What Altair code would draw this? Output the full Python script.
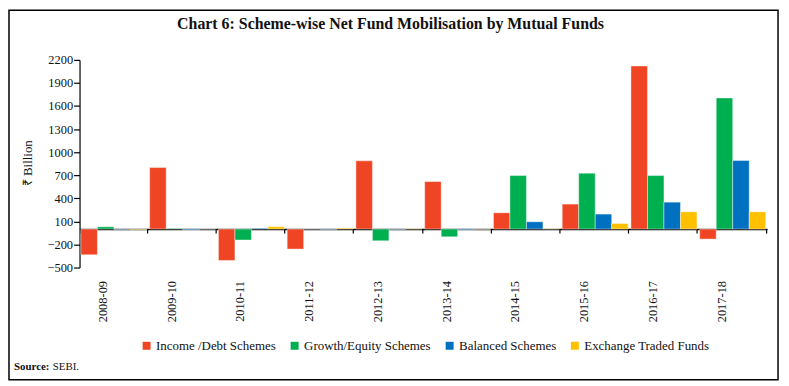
import altair as alt
import pandas as pd

years = ["2008-09", "2009-10", "2010-11", "2011-12", "2012-13",
         "2013-14", "2014-15", "2015-16", "2016-17", "2017-18"]
series = ["Income /Debt Schemes", "Growth/Equity Schemes",
          "Balanced Schemes", "Exchange Traded Funds"]
income = [-334, 800, -408, -260, 887, 618, 212, 325, 2121, -130]
growth = [30, 8, -142, 0, -152, -100, 696, 727, 696, 1705]
balanced = [-5, -12, 10, -5, -5, -10, 95, 195, 350, 891]
etf = [-8, 0, 32, 12, 5, -3, 5, 73, 225, 225]
colors = ["#EF4524", "#00B050", "#0070C0", "#FFC000"]
y_ticks = [-500, -200, 100, 400, 700, 1000, 1300, 1600, 1900, 2200]

rows = []
for s, vals in zip(series, [income, growth, balanced, etf]):
    for yr, v in zip(years, vals):
        rows.append({"Year": yr, "Series": s, "Value": v})
df = pd.DataFrame(rows)

W, H = 692, 209
FONT = "Liberation Serif"
zero_offset = -H * 500 / 2700

xscale = alt.Scale(paddingInner=0.04, paddingOuter=0.02)
yscale = alt.Scale(domain=[-500, 2200], nice=False, zero=False)
yaxis = alt.Axis(values=y_ticks, format="d", labelOverlap=False, labelFlush=False,
                 tickCount=10, grid=False, domainColor="black", domainWidth=1.2,
                 tickColor="black", tickSize=6, tickWidth=1.2, labelPadding=1,
                 labelFont=FONT, labelFontSize=12.5, labelColor="#111",
                 title="₹ Billion", titleFont=FONT, titleFontSize=13,
                 titleFontWeight="normal", titleColor="#111",
                 titleX=-52, titleY=H / 2 - 1, titleAngle=270,
                 titleAlign="center", titleBaseline="middle")

bars = alt.Chart(df).mark_bar(stroke="white", strokeWidth=0.6, strokeOpacity=0.7).encode(
    x=alt.X("Year:N", sort=years, scale=xscale,
            axis=alt.Axis(title=None, orient="bottom", domain=False, ticks=False,
                          labelAngle=-90, labelPadding=13, labelOffset=-11,
                          labelFont=FONT, labelFontSize=12.5, labelColor="#111")),
    xOffset=alt.XOffset("Series:N", sort=series, scale=alt.Scale(paddingInner=0, paddingOuter=0)),
    y=alt.Y("Value:Q", scale=yscale, axis=yaxis),
    color=alt.Color("Series:N", sort=series,
                    scale=alt.Scale(domain=series, range=colors),
                    legend=alt.Legend(title=None, orient="none", direction="horizontal",
                                      legendX=61, legendY=281, symbolType="square",
                                      symbolSize=64, symbolStrokeWidth=0, labelOffset=3,
                                      columnPadding=12, labelFont=FONT, labelFontSize=13,
                                      labelColor="#111", labelLimit=300)),
)

zero_axis = alt.Chart(df).mark_tick(opacity=0).encode(
    x=alt.X("Year:N", sort=years, scale=xscale,
            axis=alt.Axis(title=None, orient="bottom", offset=zero_offset, labels=False,
                          domainColor="black", domainWidth=1.5, tickColor="black",
                          tickSize=4, tickWidth=1.2, tickBand="extent")),
    y=alt.Y("Value:Q", scale=yscale, axis=yaxis),
)

title = alt.Chart(pd.DataFrame({"t": ["Chart 6: Scheme-wise Net Fund Mobilisation by Mutual Funds"]})).mark_text(
    font=FONT, fontSize=16, fontWeight="bold", align="center", baseline="middle", color="#111"
).encode(text="t:N", x=alt.value(313), y=alt.value(-36))

src1 = alt.Chart(pd.DataFrame({"t": ["Source:"]})).mark_text(
    font=FONT, fontSize=11, fontWeight="bold", align="left", baseline="middle", color="#111"
).encode(text="t:N", x=alt.value(-66), y=alt.value(309))

src2 = alt.Chart(pd.DataFrame({"t": ["SEBI."]})).mark_text(
    font=FONT, fontSize=11, align="left", baseline="middle", color="#111"
).encode(text="t:N", x=alt.value(-27), y=alt.value(309))

frame = alt.Chart(pd.DataFrame({"a": [0]})).mark_rect(
    fillOpacity=0, stroke="black", strokeWidth=1.5
).encode(x=alt.value(-71), x2=alt.value(703), y=alt.value(-50), y2=alt.value(322))

chart = alt.layer(bars, zero_axis, title, src1, src2, frame).resolve_axis(
    x="independent"
).properties(
    width=W, height=H,
    autosize=alt.AutoSizeParams(type="none"),
    padding={"left": 72, "top": 51, "right": 14, "bottom": 116},
).configure_view(stroke=None)

chart.save("out.html", embed_options={"renderer": "svg", "actions": False})
